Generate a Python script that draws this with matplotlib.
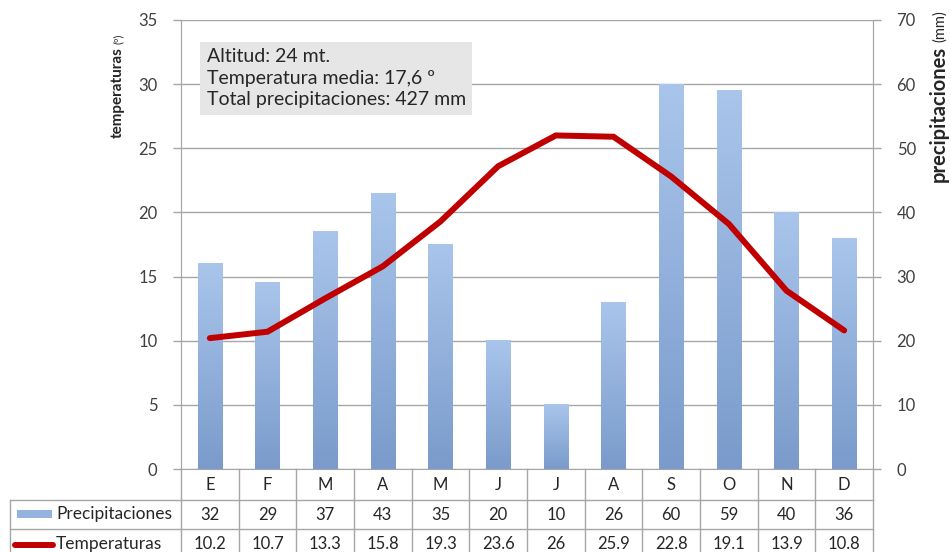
import numpy as np
import matplotlib
matplotlib.use('Agg')
import matplotlib.pyplot as plt
from matplotlib.colors import LinearSegmentedColormap
from matplotlib.transforms import blended_transform_factory
from matplotlib.patches import Rectangle

months = ['E', 'F', 'M', 'A', 'M', 'J', 'J', 'A', 'S', 'O', 'N', 'D']
precip = [32, 29, 37, 43, 35, 20, 10, 26, 60, 59, 40, 36]
temps = [10.2, 10.7, 13.3, 15.8, 19.3, 23.6, 26, 25.9, 22.8, 19.1, 13.9, 10.8]
info = ['Altitud: 24 mt.', 'Temperatura media: 17,6 º', 'Total precipitaciones: 427 mm']

plt.rcParams['font.family'] = ['Lato', 'DejaVu Sans']
txt_col = '#404040'
dark = '#262626'
grid_col = '#a6a6a6'
line_col = '#c00000'

W, H = 951, 552
fig = plt.figure(figsize=(W / 100, H / 100), dpi=100)
# ax holds the bars (right axis), ax2 the temperature line (left axis)
ax = fig.add_axes([181 / W, 1 - 469 / H, 692 / W, 449 / H])
ax2 = ax.twinx()

x = np.arange(len(months))
bw = 0.42
cmap = LinearSegmentedColormap.from_list('bars', ['#7a9bcb', '#a9c5eb'])
grad = np.linspace(0, 1, 200).reshape(-1, 1)
for xi, p in zip(x, precip):
    ax.imshow(grad, cmap=cmap, origin='lower', aspect='auto',
              extent=(xi - bw / 2, xi + bw / 2, 0, p), zorder=2)

ax2.plot(x, temps, color=line_col, lw=4.3, solid_capstyle='round',
         solid_joinstyle='miter', zorder=3)

ax.set_xlim(-0.5, 11.5)
ax.set_ylim(0, 70)
ax2.set_ylim(0, 35)
ax.set_yticks(range(0, 71, 10))
ax2.set_yticks(range(0, 36, 5))
ax.set_xticks([])

ax.yaxis.tick_right()
ax.yaxis.set_label_position('right')
ax2.yaxis.tick_left()
ax2.yaxis.set_label_position('left')

ax.yaxis.grid(True, color=grid_col, lw=1)
ax.set_axisbelow(True)

for a in (ax, ax2):
    for s in a.spines.values():
        s.set_color(grid_col)
    a.spines['top'].set_visible(False)
    a.tick_params(axis='y', direction='out', length=6, width=1, color=grid_col,
                  labelsize=12, labelcolor=txt_col, pad=11)
ax2.spines['bottom'].set_visible(False)

# axis titles: bold word plus smaller unit right after it
t_left = fig.text(118 / W, 1 - 47 / H, 'temperaturas', rotation=90, ha='center',
                  va='top', fontsize=11, fontweight='bold', color=dark)
ax.annotate('(º)', xy=(0.5, 1), xycoords=t_left, xytext=(0.5, 2),
            textcoords='offset points', rotation=90, ha='center', va='bottom',
            fontsize=8, color=dark)
t_right = fig.text(939 / W, 1 - 46 / H, 'precipitaciones', rotation=90, ha='center',
                   va='top', fontsize=14.5, fontweight='bold', color=dark)
ax.annotate('(mm)', xy=(0.5, 1), xycoords=t_right, xytext=(0.5, 3),
            textcoords='offset points', rotation=90, ha='center', va='bottom',
            fontsize=10.5, color=dark)

# info box
ax2.text(0.037, 0.937, '\n'.join(info), transform=ax2.transAxes, ha='left', va='top',
         fontsize=14, color=dark, linespacing=1.32, zorder=5,
         bbox=dict(boxstyle='square,pad=0.33', fc='#e6e6e6', ec='none'))

# data table under the axes
tr = blended_transform_factory(ax.transData, ax.transAxes)
ah = 449.0
r1, r2, r3 = -31 / ah, -60 / ah, -95 / ah
xl = -171 / 692.0
kw = dict(color=grid_col, lw=1, clip_on=False)
ax.plot([xl, 1], [r1, r1], transform=ax.transAxes, **kw)
ax.plot([xl, 1], [r2, r2], transform=ax.transAxes, **kw)
ax.plot([0, 0], [0, r3], transform=ax.transAxes, **kw)
ax.plot([1, 1], [0, r3], transform=ax.transAxes, **kw)
ax.plot([xl, xl], [r1, r3], transform=ax.transAxes, **kw)
for xi in x[:-1]:
    ax.plot([xi + 0.5, xi + 0.5], [0, r3], transform=tr, **kw)

rows = [(months, (0 + r1) / 2),
        ([f'{v:g}' for v in precip], (r1 + r2) / 2),
        ([f'{v:g}' for v in temps], r2 - 15 / ah)]
for labels, yc in rows:
    for xi, s in zip(x, labels):
        ax.text(xi, yc, s, transform=tr, ha='center', va='center',
                fontsize=12, color=dark, clip_on=False)

ax.add_patch(Rectangle(((17 - 181) / 692, (469 - 518) / ah), 35 / 692, 8 / ah,
                       transform=ax.transAxes, fc='#95b3df', ec='none', clip_on=False))
ax.plot([(15 - 181) / 692, (53 - 181) / 692], [(469 - 545) / ah] * 2,
        transform=ax.transAxes, color=line_col, lw=4.3, solid_capstyle='round',
        clip_on=False)
ax.text((56 - 181) / 692, (r1 + r2) / 2, 'Precipitaciones', transform=ax.transAxes,
        ha='left', va='center', fontsize=12.5, color=dark)
ax.text((56 - 181) / 692, r2 - 15 / ah, 'Temperaturas', transform=ax.transAxes,
        ha='left', va='center', fontsize=12.5, color=dark)

fig.savefig('out.png', dpi=100)
